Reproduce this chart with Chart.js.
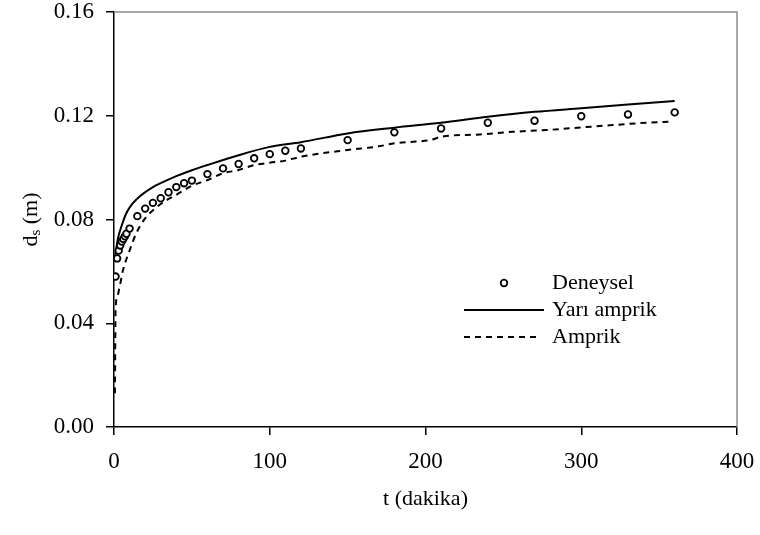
<!DOCTYPE html>
<html>
<head>
<meta charset="utf-8">
<script src="https://cdn.jsdelivr.net/npm/chart.js@4.4.1/dist/chart.umd.min.js"></script>
<style>
  html, body { margin: 0; padding: 0; background: #fff; }
  #wrap { width: 760px; height: 535px; }
</style>
</head>
<body>
<div id="wrap"><canvas id="dsChart" width="760" height="535"></canvas></div>
<script>
// Deneysel (experimental) points
const tDeneysel = [1, 2, 3, 4, 5, 6, 7, 8, 10, 15, 20, 25, 30, 35, 40, 45, 50, 60, 70, 80, 90, 100, 110, 120, 150, 180, 210, 240, 270, 300, 330, 360];
const dsDeneysel = [0.058, 0.065, 0.068, 0.070, 0.0715, 0.0725, 0.0735, 0.0745, 0.0765, 0.0813, 0.0842, 0.0864, 0.0882, 0.0905, 0.0925, 0.094, 0.095, 0.0975, 0.0997, 0.1014, 0.1036, 0.1052, 0.1065, 0.1074, 0.1106, 0.1136, 0.1151, 0.1173, 0.1181, 0.1198, 0.1205, 0.1213];

// Yari amprik (semi-empirical) curve
const tYari = [0.5, 1.5, 2.6, 4.7, 7.9, 12, 17.5, 25, 30, 40, 50, 60, 80, 100, 120, 150, 180, 210, 240, 270, 300, 330, 360];
const dsYari = [0.065, 0.069, 0.0729, 0.0772, 0.0824, 0.0862, 0.0894, 0.0925, 0.094, 0.0967, 0.099, 0.101, 0.1048, 0.108, 0.1098, 0.1132, 0.1154, 0.1173, 0.1196, 0.1215, 0.1229, 0.1243, 0.1257];

// Amprik (empirical) curve
const tAmprik = [0.6, 1, 2, 3.6, 5.8, 10, 14.3, 20, 30, 40, 50, 60, 70, 80, 90, 100, 110, 120, 150, 170, 180, 192, 203, 210, 235, 256, 278, 300, 320, 342, 358];
const dsAmprik = [0.013, 0.045, 0.050, 0.054, 0.0605, 0.068, 0.0747, 0.0804, 0.086, 0.0895, 0.093, 0.0952, 0.0978, 0.0991, 0.101, 0.1019, 0.1027, 0.1042, 0.1068, 0.1082, 0.1094, 0.110, 0.1106, 0.1119, 0.1128, 0.1138, 0.1145, 0.1155, 0.1164, 0.1173, 0.1177];

const xTicks = [0, 100, 200, 300, 400];
const yTicks = [0.00, 0.04, 0.08, 0.12, 0.16];

const serif = "'Liberation Serif', 'Times New Roman', serif";

function pairs(xs, ys) {
    return xs.map((x, i) => ({ x: x, y: ys[i] }));
}

// fixed axis sizes, no extra label padding
function fitScale(size, horizontal) {
    return s => {
        if (horizontal) s.height = size; else s.width = size;
        s.paddingTop = 0;
        s.paddingBottom = 0;
        s.paddingLeft = 0;
        s.paddingRight = 0;
    };
}

// frame, axis titles and legend drawn on top
const decorPlugin = {
    id: 'decor',
    afterDraw(chart) {
        const ctx = chart.ctx;
        const a = chart.chartArea;
        ctx.save();

        // gray top and right edge of the plot frame
        ctx.strokeStyle = '#8c8c8c';
        ctx.lineWidth = 1.5;
        ctx.beginPath();
        ctx.moveTo(a.left, a.top);
        ctx.lineTo(a.right, a.top);
        ctx.lineTo(a.right, a.bottom);
        ctx.stroke();

        ctx.fillStyle = '#000';

        // x axis title
        ctx.font = '22px ' + serif;
        ctx.textAlign = 'center';
        ctx.textBaseline = 'middle';
        ctx.fillText('t (dakika)', (a.left + a.right) / 2, 499);

        // y axis title with subscript s
        ctx.save();
        ctx.translate(30, (a.top + a.bottom) / 2);
        ctx.rotate(-Math.PI / 2);
        ctx.textBaseline = 'alphabetic';
        ctx.textAlign = 'left';
        const big = '22px ' + serif, small = '15px ' + serif;
        ctx.font = big;
        const wD = ctx.measureText('d').width;
        const wRest = ctx.measureText(' (m)').width;
        ctx.font = small;
        const wS = ctx.measureText('s').width;
        let x0 = -(wD + wS + wRest) / 2;
        const base = 7;
        ctx.font = big;
        ctx.fillText('d', x0, base);
        ctx.font = small;
        ctx.fillText('s', x0 + wD, base + 3);
        ctx.font = big;
        ctx.fillText(' (m)', x0 + wD + wS, base);
        ctx.restore();

        // legend
        const lx = 552;
        const rows = [283, 310, 337];
        ctx.font = '22px ' + serif;
        ctx.textAlign = 'left';
        ctx.textBaseline = 'middle';
        ctx.fillText('Deneysel', lx, rows[0]);
        ctx.fillText('Yarı amprik', lx, rows[1]);
        ctx.fillText('Amprik', lx, rows[2]);

        ctx.strokeStyle = '#000';
        ctx.lineWidth = 1.8;
        ctx.beginPath();
        ctx.arc(504, rows[0], 3.3, 0, Math.PI * 2);
        ctx.stroke();

        ctx.lineWidth = 2;
        ctx.beginPath();
        ctx.moveTo(464, rows[1]);
        ctx.lineTo(544, rows[1]);
        ctx.stroke();

        ctx.setLineDash([6, 5]);
        ctx.beginPath();
        ctx.moveTo(464, rows[2]);
        ctx.lineTo(540, rows[2]);
        ctx.stroke();
        ctx.setLineDash([]);

        ctx.restore();
    }
};

const ctx = document.getElementById('dsChart').getContext('2d');
const dsChart = new Chart(ctx, {
    type: 'scatter',
    data: {
        datasets: [
            {
                label: 'Yarı amprik',
                data: pairs(tYari, dsYari),
                showLine: true,
                borderColor: '#000',
                borderWidth: 2,
                pointRadius: 0,
                cubicInterpolationMode: 'monotone',
                order: 3
            },
            {
                label: 'Amprik',
                data: pairs(tAmprik, dsAmprik),
                showLine: true,
                borderColor: '#000',
                borderWidth: 2,
                borderDash: [6, 5],
                pointRadius: 0,
                cubicInterpolationMode: 'monotone',
                order: 2
            },
            {
                label: 'Deneysel',
                data: pairs(tDeneysel, dsDeneysel),
                showLine: false,
                pointStyle: 'circle',
                pointRadius: 3.3,
                pointBorderWidth: 1.8,
                pointBackgroundColor: '#fff',
                pointBorderColor: '#000',
                order: 1
            }
        ]
    },
    options: {
        responsive: false,
        animation: false,
        layout: { padding: { top: 12, right: 23, left: 0, bottom: 0 } },
        scales: {
            x: {
                type: 'linear',
                min: 0,
                max: 400,
                afterFit: fitScale(108, true),
                afterBuildTicks: s => { s.ticks = xTicks.map(v => ({ value: v })); },
                border: { display: true, color: '#000', width: 1.5 },
                grid: { drawOnChartArea: false, tickLength: 8, tickColor: '#000', lineWidth: 1.5 },
                ticks: {
                    color: '#000',
                    padding: 13,
                    maxRotation: 0,
                    font: { family: serif, size: 23 },
                    callback: v => String(v)
                }
            },
            y: {
                type: 'linear',
                min: 0,
                max: 0.16,
                afterFit: fitScale(114, false),
                afterBuildTicks: s => { s.ticks = yTicks.map(v => ({ value: v })); },
                border: { display: true, color: '#000', width: 1.5 },
                grid: { drawOnChartArea: false, tickLength: 8, tickColor: '#000', lineWidth: 1.5 },
                ticks: {
                    color: '#000',
                    padding: 12,
                    font: { family: serif, size: 23 },
                    callback: v => v.toFixed(2)
                }
            }
        },
        plugins: {
            legend: { display: false },
            tooltip: { enabled: false }
        }
    },
    plugins: [decorPlugin]
});
</script>
</body>
</html>
